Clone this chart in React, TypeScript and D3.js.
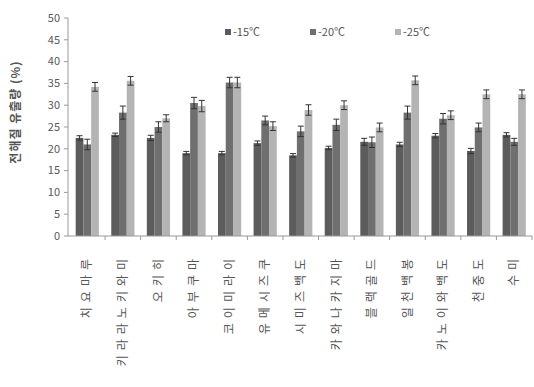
import React from "react";
import * as d3 from "d3";

const categories = ["치요마루", "키라라노키와미", "오키히", "아부쿠마", "코이미라이", "유메시즈쿠", "시미즈백도", "카와나카지마", "블랙골드", "일천백봉", "카노이와백도", "천중도", "수미"];
const seriesNames = ["-15℃", "-20℃", "-25℃"];
const v15 = [22.5, 23.2, 22.5, 19, 19, 21.3, 18.5, 20.2, 21.6, 21, 23, 19.5, 23.2];
const v20 = [21, 28.3, 25, 30.5, 35.2, 26.5, 24, 25.5, 21.5, 28.3, 26.9, 24.9, 21.6];
const v25 = [34.2, 35.6, 27, 29.8, 35.2, 25.2, 28.9, 30, 24.9, 35.7, 27.7, 32.5, 32.5];
const e15 = [0.5, 0.4, 0.6, 0.4, 0.4, 0.5, 0.4, 0.4, 0.8, 0.5, 0.5, 0.6, 0.5];
const e20 = [1.2, 1.5, 1.2, 1.3, 1.2, 1.0, 1.2, 1.3, 1.2, 1.5, 1.2, 1.0, 0.8];
const e25 = [1.0, 1.0, 0.8, 1.3, 1.2, 1.0, 1.2, 1.0, 1.0, 1.0, 1.0, 1.0, 1.0];
const yTicks = [0, 5, 10, 15, 20, 25, 30, 35, 40, 45, 50];
const yTitle = "전해질 유출량 (%)";

const values = [v15, v20, v25];
const errors = [e15, e20, e25];
const colors = ["#5c5c5c", "#6f6f6f", "#b4b4b4"];

export default function App() {
  const W = 534, H = 387;
  const axisX = 68;
  const y = d3.scaleLinear().domain([0, 50]).range([236, 18]);
  const x = d3.scaleBand().domain(categories).range([69.5, 532]).paddingInner(0).paddingOuter(0);
  const xs = d3.scaleBand().domain(seriesNames).range([0, x.step()]).paddingInner(0).paddingOuter(0.8);
  const font = "'Noto Sans CJK KR', 'Noto Sans', sans-serif";
  const boundaries = categories.map((_, i) => 69.5 + x.step() * (i + 1));
  const legendX = [225, 310, 395];

  return (
    <svg width={W} height={H} style={{ position: "absolute", left: 0, top: 0, background: "#fff" }} fontFamily={font}>
      {/* bars */}
      {categories.map((c, i) => (
        <g key={c} transform={`translate(${x(c)},0)`}>
          {seriesNames.map((s, k) => {
            const v = values[k][i];
            const bx = xs(s)!;
            const bw = xs.bandwidth();
            const cx = bx + bw / 2;
            const e = errors[k][i];
            return (
              <g key={s}>
                <rect x={bx} y={y(v)} width={bw} height={y(0) - y(v)} fill={colors[k]} />
                <line x1={cx} x2={cx} y1={y(v + e)} y2={y(v - e)} stroke="#333" strokeWidth={1} />
                <line x1={cx - 3} x2={cx + 3} y1={y(v + e)} y2={y(v + e)} stroke="#333" strokeWidth={1} />
                <line x1={cx - 3} x2={cx + 3} y1={y(v - e)} y2={y(v - e)} stroke="#333" strokeWidth={1} />
              </g>
            );
          })}
        </g>
      ))}
      {/* y axis */}
      <line x1={axisX} x2={axisX} y1={y(50)} y2={y(0)} stroke="#999" />
      {yTicks.map((t) => (
        <g key={t}>
          <line x1={axisX - 4} x2={axisX} y1={y(t)} y2={y(t)} stroke="#999" />
          <text x={axisX - 8} y={y(t)} dy="0.35em" textAnchor="end" fontSize={11} fill="#595959">{t}</text>
        </g>
      ))}
      {/* x axis */}
      <line x1={axisX} x2={532} y1={y(0)} y2={y(0)} stroke="#999" />
      {boundaries.map((b, i) => (
        <line key={i} x1={b} x2={b} y1={y(0)} y2={y(0) + 4} stroke="#999" />
      ))}
      {categories.map((c) => (
        <text
          key={c}
          transform={`translate(${x(c)! + x.bandwidth() / 2},254) rotate(-90)`}
          textAnchor="end"
          dy="0.35em"
          fontSize={12}
          letterSpacing={5}
          fill="#555"
        >
          {c}
        </text>
      ))}
      {/* y title */}
      <text transform={`translate(16,112) rotate(-90)`} textAnchor="middle" dy="0.35em" fontSize={12} fontWeight="bold" fill="#555" letterSpacing={1}>
        {yTitle}
      </text>
      {/* legend */}
      {seriesNames.map((s, k) => (
        <g key={s}>
          <rect x={legendX[k]} y={29} width={6} height={6} fill={colors[k]} />
          <text x={legendX[k] + 8} y={32} dy="0.35em" fontSize={11} fill="#555">{s}</text>
        </g>
      ))}
    </svg>
  );
}
